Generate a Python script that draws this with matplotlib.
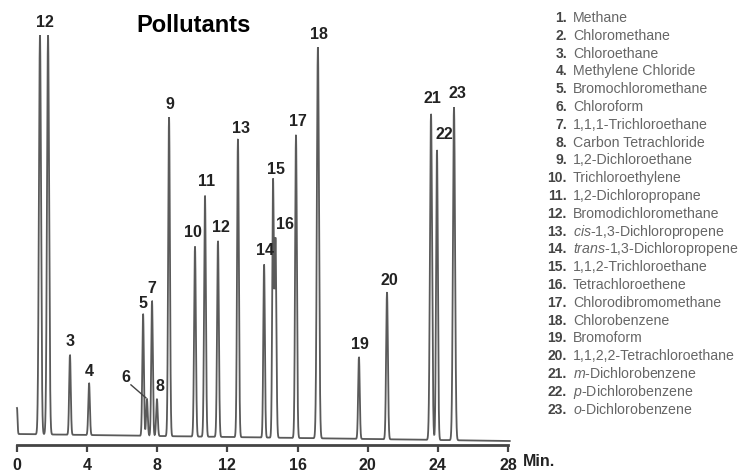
import numpy as np
import matplotlib
matplotlib.use("Agg")
import matplotlib.pyplot as plt

plt.rcParams['font.family'] = ['Liberation Sans', 'DejaVu Sans']
plt.rcParams['mathtext.fontset'] = 'custom'
plt.rcParams['mathtext.it'] = 'Liberation Sans:italic'
plt.rcParams['mathtext.rm'] = 'Liberation Sans'

# ---- data ----
peak_ids = list(range(1, 24))
peak_times = [1.31, 1.77, 3.02, 4.11, 7.19, 7.41, 7.70, 7.98, 8.67, 10.15, 10.72,
              11.46, 12.60, 14.09, 14.60, 14.74, 15.91, 17.16, 19.50, 21.10,
              23.61, 23.95, 24.92]
peak_heights = [399, 399, 80, 52, 122, 37, 135, 37, 319, 190, 241, 196, 298,
                173, 255, 198, 303, 391, 82, 147, 326, 290, 333]
peak_widths = [0.06, 0.06, 0.045, 0.045, 0.045, 0.045, 0.045, 0.045, 0.05, 0.05, 0.05,
               0.05, 0.05, 0.045, 0.045, 0.05, 0.05, 0.06, 0.045, 0.05, 0.06, 0.05, 0.06]
injection_time = 0.0
injection_height = 26
baseline_times = [0, 28]
baseline_levels = [0, -7]

compound_names = ["Methane", "Chloromethane", "Chloroethane", "Methylene Chloride",
                  "Bromochloromethane", "Chloroform", "1,1,1-Trichloroethane",
                  "Carbon Tetrachloride", "1,2-Dichloroethane", "Trichloroethylene",
                  "1,2-Dichloropropane", "Bromodichloromethane",
                  r"$\mathit{cis}$-1,3-Dichloropropene",
                  r"$\mathit{trans}$-1,3-Dichloropropene",
                  "1,1,2-Trichloroethane", "Tetrachloroethene",
                  "Chlorodibromomethane", "Chlorobenzene", "Bromoform",
                  "1,1,2,2-Tetrachloroethane", r"$\mathit{m}$-Dichlorobenzene",
                  r"$\mathit{p}$-Dichlorobenzene", r"$\mathit{o}$-Dichlorobenzene"]

x_ticks = [0, 4, 8, 12, 16, 20, 24, 28]

# peak labels as printed: (text, peak index it sits over)
label_texts = ["12", "3", "4", "5", "6", "7", "8", "9", "10", "11", "12", "13",
               "14", "15", "16", "17", "18", "19", "20", "21", "22", "23"]
label_peaks = [0, 2, 3, 4, 5, 6, 7, 8, 9, 10, 11, 12, 13, 14, 15, 16, 17, 18, 19,
               20, 21, 22]
# label offsets in pixels (dx, dy) relative to the peak apex (layout only)
label_offsets = [(5, 13), (0, 13), (0, 12), (0, 10), (-21, 21), (0, 12), (3, 12),
                 (1, 13), (-2, 14), (2, 14), (3, 13), (3, 11), (1, 14), (3, 13),
                 (10, 15), (2, 13), (1, 13), (1, 12), (2, 12), (1, 15), (7, 15), (3, 14)]

# ---- figure ----
W, H = 742, 471
fig = plt.figure(figsize=(W / 100, H / 100), dpi=100)
x0_px, x1_px = 17, 508
axis_px = 445
ax = fig.add_axes([x0_px / W, (H - axis_px) / H, (x1_px - x0_px) / W, axis_px / H])
base_px = 434
ax.set_xlim(0, 28)
ax.set_ylim(-(axis_px - base_px), base_px)

t = np.linspace(0, 28.1, 28000)
signal = np.interp(t, baseline_times, baseline_levels).astype(float)
signal += injection_height * np.exp(-0.5 * ((t - injection_time) / 0.03) ** 2)
for pt, ph, pw in zip(peak_times, peak_heights, peak_widths):
    signal += ph * np.exp(-0.5 * ((t - pt) / pw) ** 2)
ax.plot(t, signal, color="#5a5a5a", lw=1.3, clip_on=False, solid_joinstyle="miter")

px_per_min = (x1_px - x0_px) / 28.0
for txt, pi, (dx, dy) in zip(label_texts, label_peaks, label_offsets):
    pt = peak_times[pi]
    top = peak_heights[pi] + np.interp(pt, baseline_times, baseline_levels)
    ax.text(pt + dx / px_per_min, top + dy, txt, ha="center", va="center",
            fontsize=11.5, fontweight="bold", color="#222222")

# leader line for label 6
pt6 = peak_times[5]
top6 = peak_heights[5] + np.interp(pt6, baseline_times, baseline_levels)
ax.plot([pt6 - 16 / px_per_min, pt6 - 1 / px_per_min], [top6 + 14, top6 + 1],
        color="#444444", lw=1.0)

# axis styling
for s in ["top", "right", "left"]:
    ax.spines[s].set_visible(False)
ax.spines["bottom"].set_linewidth(2.0)
ax.spines["bottom"].set_color("#444444")
ax.set_yticks([])
ax.set_xticks(x_ticks)
ax.set_xticklabels([str(v) for v in x_ticks], fontsize=11.5, fontweight="bold",
                   color="#222222")
ax.tick_params(axis="x", direction="out", length=5, width=1.6, color="#444444", pad=4)
ax.text(28 + 15 / px_per_min, -(axis_px - base_px) - 17, "Min.", ha="left",
        va="center", fontsize=11.5, fontweight="bold", color="#222222",
        clip_on=False)

fig.text(136 / W, 1 - 25 / H, "Pollutants", ha="left", va="center",
         fontsize=17, fontweight="bold", color="black")

# compound key on the right
y_first, y_step = 18, 17.8
for i, (num, name) in enumerate(zip(peak_ids, compound_names)):
    y = 1 - (y_first + i * y_step) / H
    fig.text(567 / W, y, f"{num}.", ha="right", va="center", fontsize=10,
             fontweight="bold", color="#444444")
    fig.text(573 / W, y, name, ha="left", va="center", fontsize=10.2,
             color="#666666")

fig.savefig("out.png", dpi=100)
